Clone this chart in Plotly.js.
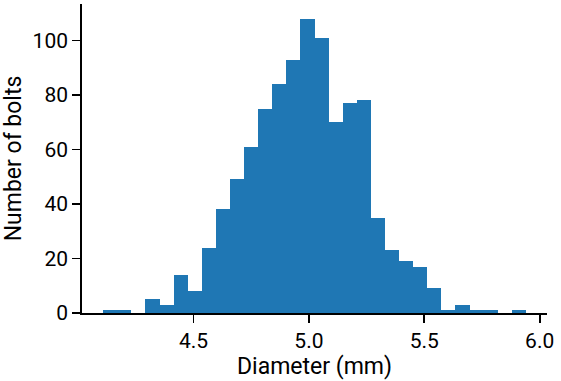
<!DOCTYPE html>
<html>
<head>
<meta charset="utf-8">
<script src="https://cdn.plot.ly/plotly-3.0.1.min.js"></script>
<style>html,body{margin:0;padding:0;background:#fff;}#chart{width:561px;height:381px;}</style>
</head>
<body>
<div id="chart"></div>
<script>
// Histogram of bolt diameters: 30 equal-width bins
var binStart = 4.108;
var binWidth = 0.06107;
var counts = [1, 1, 0, 5, 3, 14, 8, 24, 38, 49, 61, 75, 84, 93, 108, 101, 70, 77, 78, 35, 23, 19, 17, 9, 1, 3, 1, 1, 0, 1];
var xTickVals = [4.5, 5.0, 5.5, 6.0];
var xTickText = ["4.5", "5.0", "5.5", "6.0"];
var yTickVals = [0, 20, 40, 60, 80, 100];

var centers = counts.map(function (c, i) { return binStart + binWidth * (i + 0.5); });
var binEnd = binStart + binWidth * counts.length;
var pad = (binEnd - binStart) * 0.05;
var ymax = Math.max.apply(null, counts) * 1.05;

var trace = {
  type: 'bar',
  x: centers,
  y: counts,
  width: binWidth,
  marker: {color: '#1f77b4', line: {width: 0}},
  hoverinfo: 'x+y'
};

var axisCommon = {
  showgrid: false,
  zeroline: false,
  showline: true,
  linecolor: '#000',
  linewidth: 1.8,
  ticks: 'outside',
  ticklen: 8,
  tickwidth: 1.8,
  tickcolor: '#000',
  tickfont: {family: 'Roboto, sans-serif', size: 21, color: '#000'}
};

var layout = {
  width: 561,
  height: 381,
  margin: {l: 82, r: 14, t: 4, b: 68},
  paper_bgcolor: '#fff',
  plot_bgcolor: '#fff',
  showlegend: false,
  bargap: 0,
  font: {family: 'Roboto, sans-serif', color: '#000'},
  xaxis: Object.assign({}, axisCommon, {
    range: [binStart - pad, binEnd + pad],
    tickvals: xTickVals,
    ticktext: xTickText,
    title: {text: 'Diameter (mm)', font: {family: 'Roboto, sans-serif', size: 23, color: '#000'}, standoff: 2}
  }),
  yaxis: Object.assign({}, axisCommon, {
    range: [0, ymax],
    tickvals: yTickVals,
    title: {text: 'Number of bolts', font: {family: 'Roboto, sans-serif', size: 23, color: '#000'}, standoff: 7}
  })
};

Plotly.newPlot('chart', [trace], layout, {displayModeBar: false, staticPlot: true});
</script>
</body>
</html>
